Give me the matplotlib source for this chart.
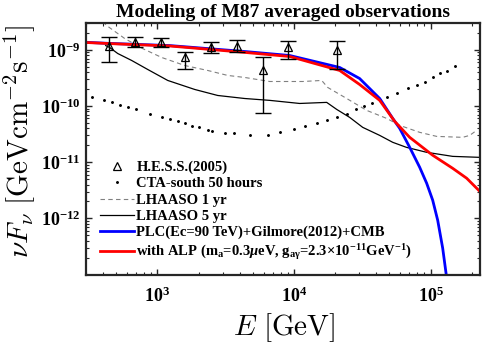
import numpy as np
import matplotlib
matplotlib.use('Agg')
import matplotlib.pyplot as plt
from matplotlib.ticker import FixedLocator, LogLocator, NullFormatter, FuncFormatter

plt.rcParams['font.family'] = ['Liberation Serif', 'DejaVu Serif']
plt.rcParams['font.weight'] = 'bold'
plt.rcParams['mathtext.fontset'] = 'custom'
plt.rcParams['mathtext.rm'] = 'Liberation Serif:bold'
plt.rcParams['mathtext.it'] = 'Liberation Serif:italic:bold'
plt.rcParams['mathtext.bf'] = 'Liberation Serif:bold'
plt.rcParams['mathtext.sf'] = 'Liberation Serif:bold'

# H.E.S.S. (2005) points, GeV and GeV cm^-2 s^-1
hess_E = [440, 680, 1060, 1590, 2460, 3810, 5900, 9000, 20500]
hess_F = [1.19e-9, 1.40e-9, 1.35e-9, 7.3e-10, 1.14e-9, 1.19e-9, 4.29e-10, 1.10e-9, 1.01e-9]
hess_up = [1.72e-9, 1.72e-9, 1.65e-9, 9.33e-10, 1.40e-9, 1.52e-9, 7.3e-10, 1.46e-9, 1.46e-9]
hess_lo = [5.95e-10, 1.14e-9, 1.10e-9, 4.47e-10, 8.6e-10, 8.96e-10, 7.39e-11, 7.0e-10, 4.47e-10]

# CTA-south 50 hours sensitivity
cta_E = [330, 404, 463, 530, 606, 694, 878, 1075, 1230, 1408,
         1585, 1783, 2006, 2335, 2497, 3110, 3619, 4740, 6420, 7860,
         9950, 11980, 14670, 17350, 20540, 24310, 28290, 32370, 37040, 42400,
         47710, 56460, 67990, 79130, 90550, 103600, 116600, 131200, 150100]
cta_F = [1.42e-10, 1.26e-10, 1.16e-10, 1.025e-10, 9.44e-11, 8.70e-11, 7.09e-11, 6.27e-11, 5.78e-11, 5.33e-11,
         4.91e-11, 4.34e-11, 4.17e-11, 3.69e-11, 3.54e-11, 3.26e-11, 3.26e-11, 3.0e-11, 3.0e-11, 3.40e-11,
         3.84e-11, 4.34e-11, 4.91e-11, 5.55e-11, 6.27e-11, 7.09e-11, 8.70e-11, 9.84e-11, 1.11e-10, 1.26e-10,
         1.42e-10, 1.67e-10, 2.05e-10, 2.32e-10, 2.63e-10, 3.22e-10, 3.79e-10, 4.12e-10, 5.05e-10]

# LHAASO 1 yr
lh1_E = [398, 425, 576, 781, 1075, 1585, 2335, 3270, 4357, 6640, 11580,
         15950, 17650, 24310, 34060, 47710, 59400, 83200, 110800, 171800, 193300, 217500]
lh1_F = [3.18e-9, 2.70e-9, 1.59e-9, 1.05e-9, 7.30e-10, 5.26e-10, 4.29e-10, 3.50e-10, 3.22e-10, 2.73e-10, 2.73e-10,
         2.85e-10, 2.14e-10, 1.36e-10, 8.35e-11, 6.02e-11, 4.52e-11, 3.40e-11, 2.88e-11, 2.77e-11, 3.0e-11, 3.69e-11]

# LHAASO 5 yr
lh5_E = [418, 447, 512, 648, 849, 1190, 1876, 2763, 4357, 6640, 11000,
         17350, 20540, 25570, 31840, 42400, 52800, 66480, 93600, 145100, 228800]
lh5_F = [1.19e-9, 1.10e-9, 8.6e-10, 6.46e-10, 4.47e-10, 2.85e-10, 1.97e-10, 1.54e-10, 1.36e-10, 1.26e-10, 1.11e-10,
         1.16e-10, 8.70e-11, 6.27e-11, 4.17e-11, 3.0e-11, 2.26e-11, 1.84e-11, 1.50e-11, 1.27e-11, 1.22e-11]

# PLC (Ec=90 TeV) + EBL + CMB
plc_E = [300, 447, 1230, 4360, 9300, 21600, 30200, 42400, 52800, 59400,
         70300, 83200, 93600, 103600, 112700, 122600, 131200]
plc_F = [1.36e-9, 1.30e-9, 1.19e-9, 9.33e-10, 7.92e-10, 4.85e-10, 3.09e-10, 1.36e-10, 6.02e-11, 4.0e-11,
         1.84e-11, 8.12e-12, 4.22e-12, 2.11e-12, 9.29e-13, 2.96e-13, 8.67e-14]

# with ALP
alp_E = [300, 447, 1230, 4360, 9300, 21600, 30200, 42400, 54600, 70300,
         103600, 145100, 183800, 228800]
alp_F = [1.35e-9, 1.29e-9, 1.17e-9, 9.0e-10, 7.60e-10, 4.29e-10, 2.42e-10, 1.26e-10, 5.33e-11, 2.77e-11,
         1.33e-11, 7.79e-12, 5.18e-12, 3.04e-12]

fig = plt.figure(figsize=(4.88, 3.44), dpi=100)
ax = fig.add_axes([86 / 488, 1 - 274.6 / 344, 394 / 488, 251.6 / 344])

ax.plot(cta_E, cta_F, '.', color='black', ms=2.2, label='CTA-south 50 hours')
ax.plot(lh1_E, lh1_F, '--', color='#808080', lw=0.8, dashes=(4, 3), label='LHAASO 1 yr')
ax.plot(lh5_E, lh5_F, '-', color='black', lw=0.9, label='LHAASO 5 yr')
ax.plot(plc_E, plc_F, '-', color='#0000ff', lw=2.0,
        label='PLC(Ec=90 TeV)+Gilmore(2012)+CMB')
ax.plot(alp_E, alp_F, '-', color='#ff0000', lw=2.0,
        label=r'with ALP (m$_{\rm a}$=0.3$\mu$eV, g$_{\rm a\gamma}$=2.3$\times$10$^{-11}$GeV$^{-1}$)')

hess_F_arr = np.array(hess_F)
yerr = [hess_F_arr - np.array(hess_lo), np.array(hess_up) - hess_F_arr]
ax.errorbar(hess_E, hess_F, yerr=yerr, fmt='none', ecolor='black', elinewidth=1,
            capsize=6, capthick=1)
ax.plot(hess_E, hess_F, '^', mfc='none', mec='black', ms=6, mew=0.9,
        label='H.E.S.S.(2005)')

ax.set_xscale('log')
ax.set_yscale('log')
ax.set_xlim(300, 2.3e5)
ax.set_ylim(1e-13, 3e-9)

ax.xaxis.set_major_locator(FixedLocator([1e3, 1e4, 1e5]))
ax.yaxis.set_major_locator(FixedLocator([1e-12, 1e-11, 1e-10, 1e-9]))
ax.xaxis.set_minor_locator(LogLocator(base=10, subs=np.arange(2, 10), numticks=20))
ax.yaxis.set_minor_locator(LogLocator(base=10, subs=np.arange(2, 10), numticks=20))
ax.xaxis.set_minor_formatter(NullFormatter())
ax.yaxis.set_minor_formatter(NullFormatter())
fmt = FuncFormatter(lambda v, p: r'$\mathbf{10^{%d}}$' % int(round(np.log10(v))))
ax.xaxis.set_major_formatter(fmt)
ax.yaxis.set_major_formatter(fmt)

ax.tick_params(which='both', direction='in', top=True, right=True, colors='#262626', labelcolor='black')
ax.tick_params(which='major', length=4, width=1, labelsize=13)
ax.tick_params(axis='y', which='major', pad=4)
ax.tick_params(axis='x', which='major', pad=9)
ax.tick_params(which='minor', length=2, width=0.8)
for s in ax.spines.values():
    s.set_linewidth(1.6)
    s.set_color('#262626')

ax.set_title('Modeling of M87 averaged observations', fontsize=14, fontweight='bold', pad=4)

fig.text(20 / 488, 1 - 141 / 344, r'$\nu F_\nu\ [\mathrm{GeVcm^{-2}s^{-1}}]$', rotation=90,
         ha='center', va='center', fontsize=21, fontweight='normal', math_fontfamily='cm')
fig.text(284 / 488, 1 - 328 / 344, r'$E\ [\mathrm{GeV}]$', ha='center', va='center',
         fontsize=21, fontweight='normal', math_fontfamily='cm')

handles, labels = ax.get_legend_handles_labels()
order = [5, 0, 1, 2, 3, 4]
leg = ax.legend([handles[i] for i in order], [labels[i] for i in order],
                loc='upper left', bbox_to_anchor=(0.0355, 0.452), frameon=False,
                borderpad=0, borderaxespad=0, handlelength=2.3, handletextpad=0.2,
                labelspacing=0.2, prop={'family': 'Liberation Serif', 'weight': 'bold', 'size': 10.5})

fig.savefig('out.png', dpi=100)
